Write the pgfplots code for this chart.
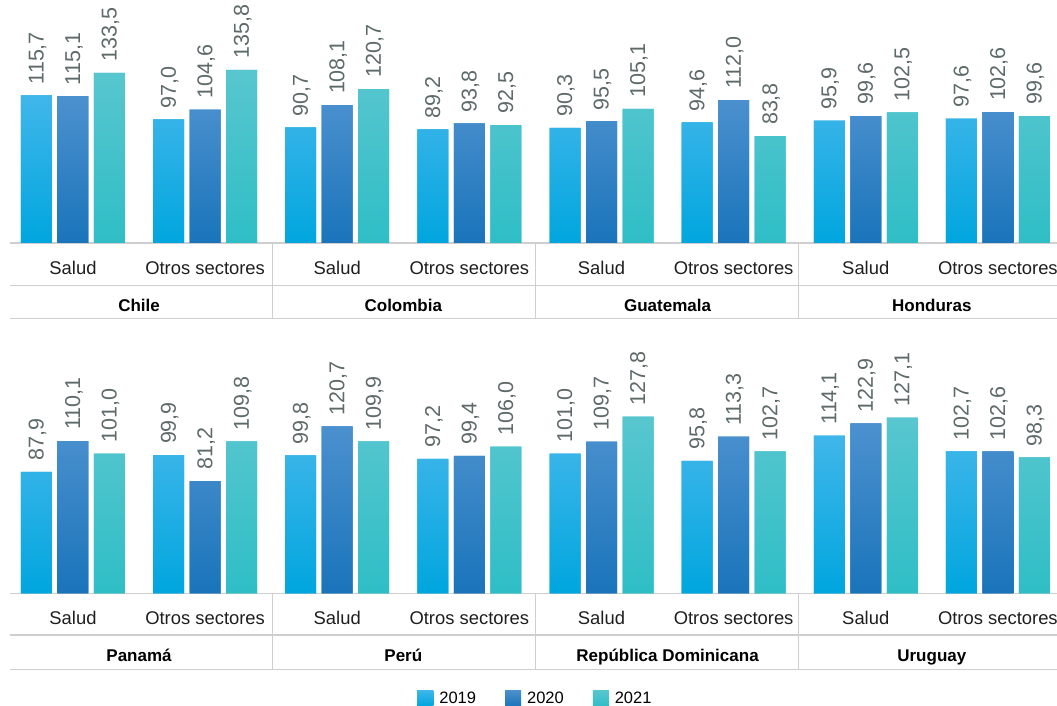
\documentclass[border=0pt]{standalone}
\usepackage{pgfplots}
\pgfplotsset{compat=1.18}
\usepackage{fontspec}
\setmainfont{Liberation Sans}
\definecolor{aTop}{HTML}{40B6EA}
\definecolor{aBot}{HTML}{00A6DE}
\definecolor{bTop}{HTML}{4C91CF}
\definecolor{bBot}{HTML}{1A74BA}
\definecolor{cTop}{HTML}{58C6CF}
\definecolor{cBot}{HTML}{2FBEC6}
\definecolor{aLeg}{HTML}{00AEEF}
\definecolor{bLeg}{HTML}{1F78C1}
\definecolor{cLeg}{HTML}{40C2CA}
\definecolor{labgrey}{HTML}{5E6A6A}
\definecolor{gridc}{HTML}{CFCFCF}
\definecolor{txt}{HTML}{1E1E1E}

\pgfplotstableread{
x y2019 y2020 y2021
0 115.7 115.1 133.5
1 97.0 104.6 135.8
2 90.7 108.1 120.7
3 89.2 93.8 92.5
4 90.3 95.5 105.1
5 94.6 112.0 83.8
6 95.9 99.6 102.5
7 97.6 102.6 99.6
}\toprow
\pgfplotstableread{
x y2019 y2020 y2021
0 87.9 110.1 101.0
1 99.9 81.2 109.8
2 99.8 120.7 109.9
3 97.2 99.4 106.0
4 101.0 109.7 127.8
5 95.8 113.3 102.7
6 114.1 122.9 127.1
7 102.7 102.6 98.3
}\botrow

\tikzset{cty/.style={font=\fontsize{17}{19}\selectfont\bfseries, text=black, anchor=base, yshift=-68.5pt}}

\pgfplotsset{
  rowstyle/.style={
    scale only axis,
    width=1057.1pt,
    xmin=-0.5, xmax=7.5,
    ymin=0, ymax=180,
    ybar=5.5pt, bar width=31pt,
    axis line style={draw=none},
    tick style={draw=none},
    ytick=\empty,
    xtick={0,...,7},
    xticklabels={Salud,Otros sectores,Salud,Otros sectores,Salud,Otros sectores,Salud,Otros sectores},
    xticklabel style={anchor=base, yshift=-27pt, font=\fontsize{18.4}{20}\selectfont, text=txt},
    clip=false,
    nodes near coords,
    /pgf/number format/assume math mode=true,
    /pgf/number format/fixed,
    /pgf/number format/fixed zerofill,
    /pgf/number format/precision=1,
    /pgf/number format/use comma,
    every node near coord/.append style={rotate=90, anchor=west, inner sep=0pt, xshift=11pt, yshift=-1pt,
      font=\fontsize{21.5}{23}\selectfont, text=labgrey},
  },
  s19/.style={draw=none, top color=aTop, bottom color=aBot, fill=aBot},
  s20/.style={draw=none, top color=bTop, bottom color=bBot, fill=bBot},
  s21/.style={draw=none, top color=cTop, bottom color=cBot, fill=cBot},
}

\begin{document}
\begin{tikzpicture}[x=1pt,y=1pt]
\useasboundingbox (0,0) rectangle (1057,705);

% table lines, top row
\draw[gridc, line width=1.6pt] (10,462) -- (1060,462);
\draw[gridc, line width=1.2pt] (10,419.3) -- (1060,419.3);
\draw[gridc, line width=1.2pt] (10,386.5) -- (1060,386.5);
\foreach \xx in {272.7,535.7,798.8} \draw[gridc, line width=1.2pt] (\xx,462) -- (\xx,386.5);
% table lines, bottom row
\draw[gridc, line width=1.6pt] (10,111.7) -- (1060,111.7);
\draw[gridc, line width=1.2pt] (10,70) -- (1060,70);
\draw[gridc, line width=1.2pt] (10,35.7) -- (1060,35.7);
\foreach \xx in {272.7,535.7,798.8} \draw[gridc, line width=1.2pt] (\xx,111.7) -- (\xx,35.7);

\begin{axis}[rowstyle, at={(6.93pt,462pt)}, anchor=south west, height=229.5pt]
\addplot[s19] table[x=x,y=y2019] {\toprow};
\addplot[s20] table[x=x,y=y2020] {\toprow};
\addplot[s21] table[x=x,y=y2021] {\toprow};
\node[cty] at (axis cs:0.5,0) {Chile};
\node[cty] at (axis cs:2.5,0) {Colombia};
\node[cty] at (axis cs:4.5,0) {Guatemala};
\node[cty] at (axis cs:6.5,0) {Honduras};
\end{axis}

\begin{axis}[rowstyle, at={(6.93pt,111.7pt)}, anchor=south west, height=248.9pt,
  legend columns=3,
  legend style={at={(0.5,-0.4207)}, anchor=center, draw=none, fill=none,
    font=\fontsize{16.5}{18}\selectfont, inner sep=0pt,
    /tikz/every odd column/.append style={column sep=4pt},
    /tikz/every even column/.append style={column sep=27pt}},
  ]
\addplot[s19, legend image code/.code={\fill[aLeg] (0pt,-8pt) rectangle (16pt,8pt);}] table[x=x,y=y2019] {\botrow};
\addlegendentry{2019}
\addplot[s20, legend image code/.code={\fill[bLeg] (0pt,-8pt) rectangle (16pt,8pt);}] table[x=x,y=y2020] {\botrow};
\addlegendentry{2020}
\addplot[s21, legend image code/.code={\fill[cLeg] (0pt,-8pt) rectangle (16pt,8pt);}] table[x=x,y=y2021] {\botrow};
\addlegendentry{2021}
\node[cty] at (axis cs:0.5,0) {Panamá};
\node[cty] at (axis cs:2.5,0) {Perú};
\node[cty] at (axis cs:4.5,0) {República Dominicana};
\node[cty] at (axis cs:6.5,0) {Uruguay};
\end{axis}
\end{tikzpicture}
\end{document}
